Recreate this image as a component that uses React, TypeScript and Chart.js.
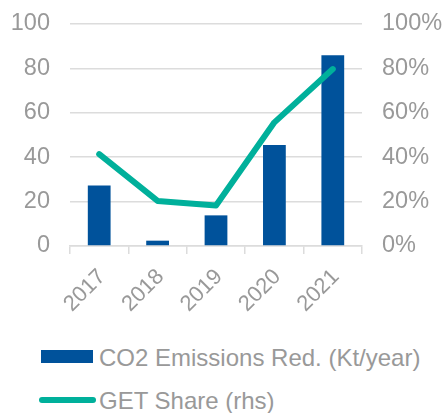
import { useEffect, useRef } from "react";
import { Chart, registerables } from "chart.js";

Chart.register(...registerables);

const categories = ["2017", "2018", "2019", "2020", "2021"];
const co2Reduction = [27.3, 2.4, 13.8, 45.5, 85.9];
const getShare = [41.4, 20.3, 18.2, 55.7, 79.7];
const seriesLabels = ["CO2 Emissions Red. (Kt/year)", "GET Share (rhs)"];
const leftAxisMax = 100;
const rightAxisMax = 100;
const axisStep = 20;

const BAR_COLOR = "#00529b";
const LINE_COLOR = "#00b09b";
const TEXT_COLOR = "#999999";
const GRID_COLOR = "#dcdcdc";
const FONT = "'Liberation Sans', Arial, sans-serif";

export default function App() {
  const canvasRef = useRef<HTMLCanvasElement | null>(null);

  useEffect(() => {
    const canvas = canvasRef.current;
    if (!canvas) return;
    const tickFont = { family: FONT, size: 23.5 };
    const chart = new Chart(canvas, {
      type: "bar",
      data: {
        labels: categories,
        datasets: [
          {
            type: "line",
            label: seriesLabels[1],
            data: getShare,
            yAxisID: "y1",
            borderColor: LINE_COLOR,
            backgroundColor: LINE_COLOR,
            borderWidth: 6,
            borderCapStyle: "round",
            borderJoinStyle: "round",
            pointRadius: 0,
            pointHoverRadius: 0,
            tension: 0,
            order: 0,
          },
          {
            type: "bar",
            label: seriesLabels[0],
            data: co2Reduction,
            yAxisID: "y",
            backgroundColor: BAR_COLOR,
            borderWidth: 0,
            categoryPercentage: 1,
            barPercentage: 0.39,
            order: 1,
          },
        ],
      },
      options: {
        responsive: false,
        animation: false,
        maintainAspectRatio: false,
        layout: { padding: { top: 24, left: 0, right: 0, bottom: 0 } },
        plugins: {
          legend: { display: false },
          tooltip: { enabled: false },
        },
        scales: {
          x: {
            offset: true,
            grid: {
              offset: true,
              drawOnChartArea: false,
              drawTicks: true,
              tickLength: 8,
              color: GRID_COLOR,
              lineWidth: 1.5,
            },
            border: { display: true, color: GRID_COLOR, width: 1.5 },
            ticks: {
              color: TEXT_COLOR,
              font: { family: FONT, size: 22 },
              minRotation: 45,
              maxRotation: 45,
              autoSkip: false,
              padding: 10,
              labelOffset: 3,
            },
            afterFit: (scale: any) => {
              scale.height = 84;
              scale.paddingLeft = 0;
              scale.paddingRight = 0;
            },
          },
          y: {
            position: "left",
            min: 0,
            max: leftAxisMax,
            ticks: {
              stepSize: axisStep,
              color: TEXT_COLOR,
              font: tickFont,
              padding: 20,
            },
            grid: { color: GRID_COLOR, lineWidth: 1.5, drawTicks: false },
            border: { display: false },
            afterFit: (scale: any) => {
              scale.width = 70;
              scale.paddingTop = 0;
              scale.paddingBottom = 0;
            },
          },
          y1: {
            position: "right",
            min: 0,
            max: rightAxisMax,
            ticks: {
              stepSize: axisStep,
              color: TEXT_COLOR,
              font: tickFont,
              padding: 20,
              callback: (v: any) => `${v}%`,
            },
            grid: { drawOnChartArea: false, drawTicks: false },
            border: { display: false },
            afterFit: (scale: any) => {
              scale.width = 83;
              scale.paddingTop = 0;
              scale.paddingBottom = 0;
            },
          },
        },
      },
    });
    return () => chart.destroy();
  }, []);

  const legendText: React.CSSProperties = {
    position: "absolute",
    left: 99,
    fontFamily: FONT,
    fontSize: 24,
    lineHeight: "24px",
    color: TEXT_COLOR,
    whiteSpace: "nowrap",
  };

  return (
    <div
      style={{
        position: "absolute",
        left: 0,
        top: 0,
        width: 445,
        height: 413,
        background: "#ffffff",
        overflow: "hidden",
      }}
    >
      <canvas ref={canvasRef} width={445} height={330} style={{ display: "block" }} />
      <div
        style={{
          position: "absolute",
          left: 41,
          top: 350,
          width: 52,
          height: 13,
          background: BAR_COLOR,
        }}
      />
      <div style={{ ...legendText, top: 346 }}>{seriesLabels[0]}</div>
      <div
        style={{
          position: "absolute",
          left: 39,
          top: 397,
          width: 57,
          height: 6,
          borderRadius: 3,
          background: LINE_COLOR,
        }}
      />
      <div style={{ ...legendText, top: 389 }}>{seriesLabels[1]}</div>
    </div>
  );
}
